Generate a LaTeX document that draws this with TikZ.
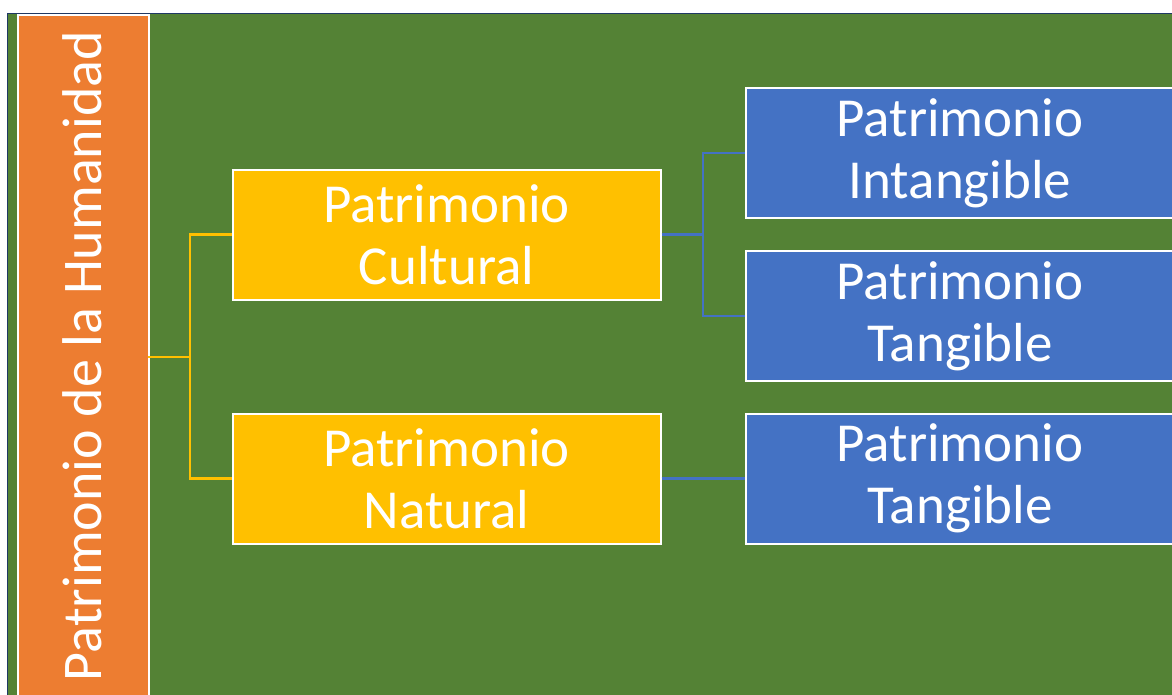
\documentclass[tikz,border=0pt]{standalone}
\usepackage{fontspec}
\setmainfont{Carlito}
\definecolor{bggreen}{HTML}{548235}
\definecolor{borange}{HTML}{ED7D31}
\definecolor{byellow}{HTML}{FFC000}
\definecolor{bblue}{HTML}{4472C4}
\definecolor{bnavy}{HTML}{1F3864}
\begin{document}
\begin{tikzpicture}[x=1pt,y=-1pt,
  box/.style={draw=white,line width=2pt,minimum width=428pt,minimum height=130pt,inner sep=0pt,
    text=white,align=center,font=\fontsize{55}{62}\selectfont},
  ybox/.style={box,fill=byellow},
  bbox/.style={box,fill=bblue},
  yline/.style={draw=byellow,line width=2.5pt},
  bline/.style={draw=bblue,line width=2.5pt}]
\useasboundingbox (0,0) rectangle (1172,694);
\begin{scope}
\clip (0,0) rectangle (1172,694);
\fill[white] (0,0) rectangle (1172,694);
\draw[bnavy,line width=1.5pt,fill=bggreen] (7.5,13.5) rectangle (1190,710);
\node[draw=white,line width=2pt,fill=borange,minimum width=131pt,minimum height=700pt,inner sep=0pt,anchor=north west] (root) at (16.5,14) {};
\node[rotate=90,text=white,font=\fontsize{56}{60}\selectfont] (roottext) at (82,356) {Patrimonio de la Humanidad};
\coordinate (rootout) at (148,357);
\node[ybox] (cult) at (446.5,234.5) {Patrimonio\\Cultural};
\node[ybox] (nat) at (446.5,478.5) {Patrimonio\\Natural};
\node[bbox] (intang) at (960,153) {Patrimonio\\Intangible};
\node[bbox] (tang1) at (960,316) {Patrimonio\\Tangible};
\node[bbox] (tang2) at (960,478.5) {Patrimonio\\Tangible};
\draw[yline] (rootout) -- (190,357) |- (cult.west);
\draw[yline] (190,357) |- (nat.west);
\draw[bline] (cult.east) -- (703,234.5) |- (intang.west);
\draw[bline] (703,234.5) |- (tang1.west);
\draw[bline] (nat.east) -- (tang2.west);
\end{scope}
\end{tikzpicture}
\end{document}
